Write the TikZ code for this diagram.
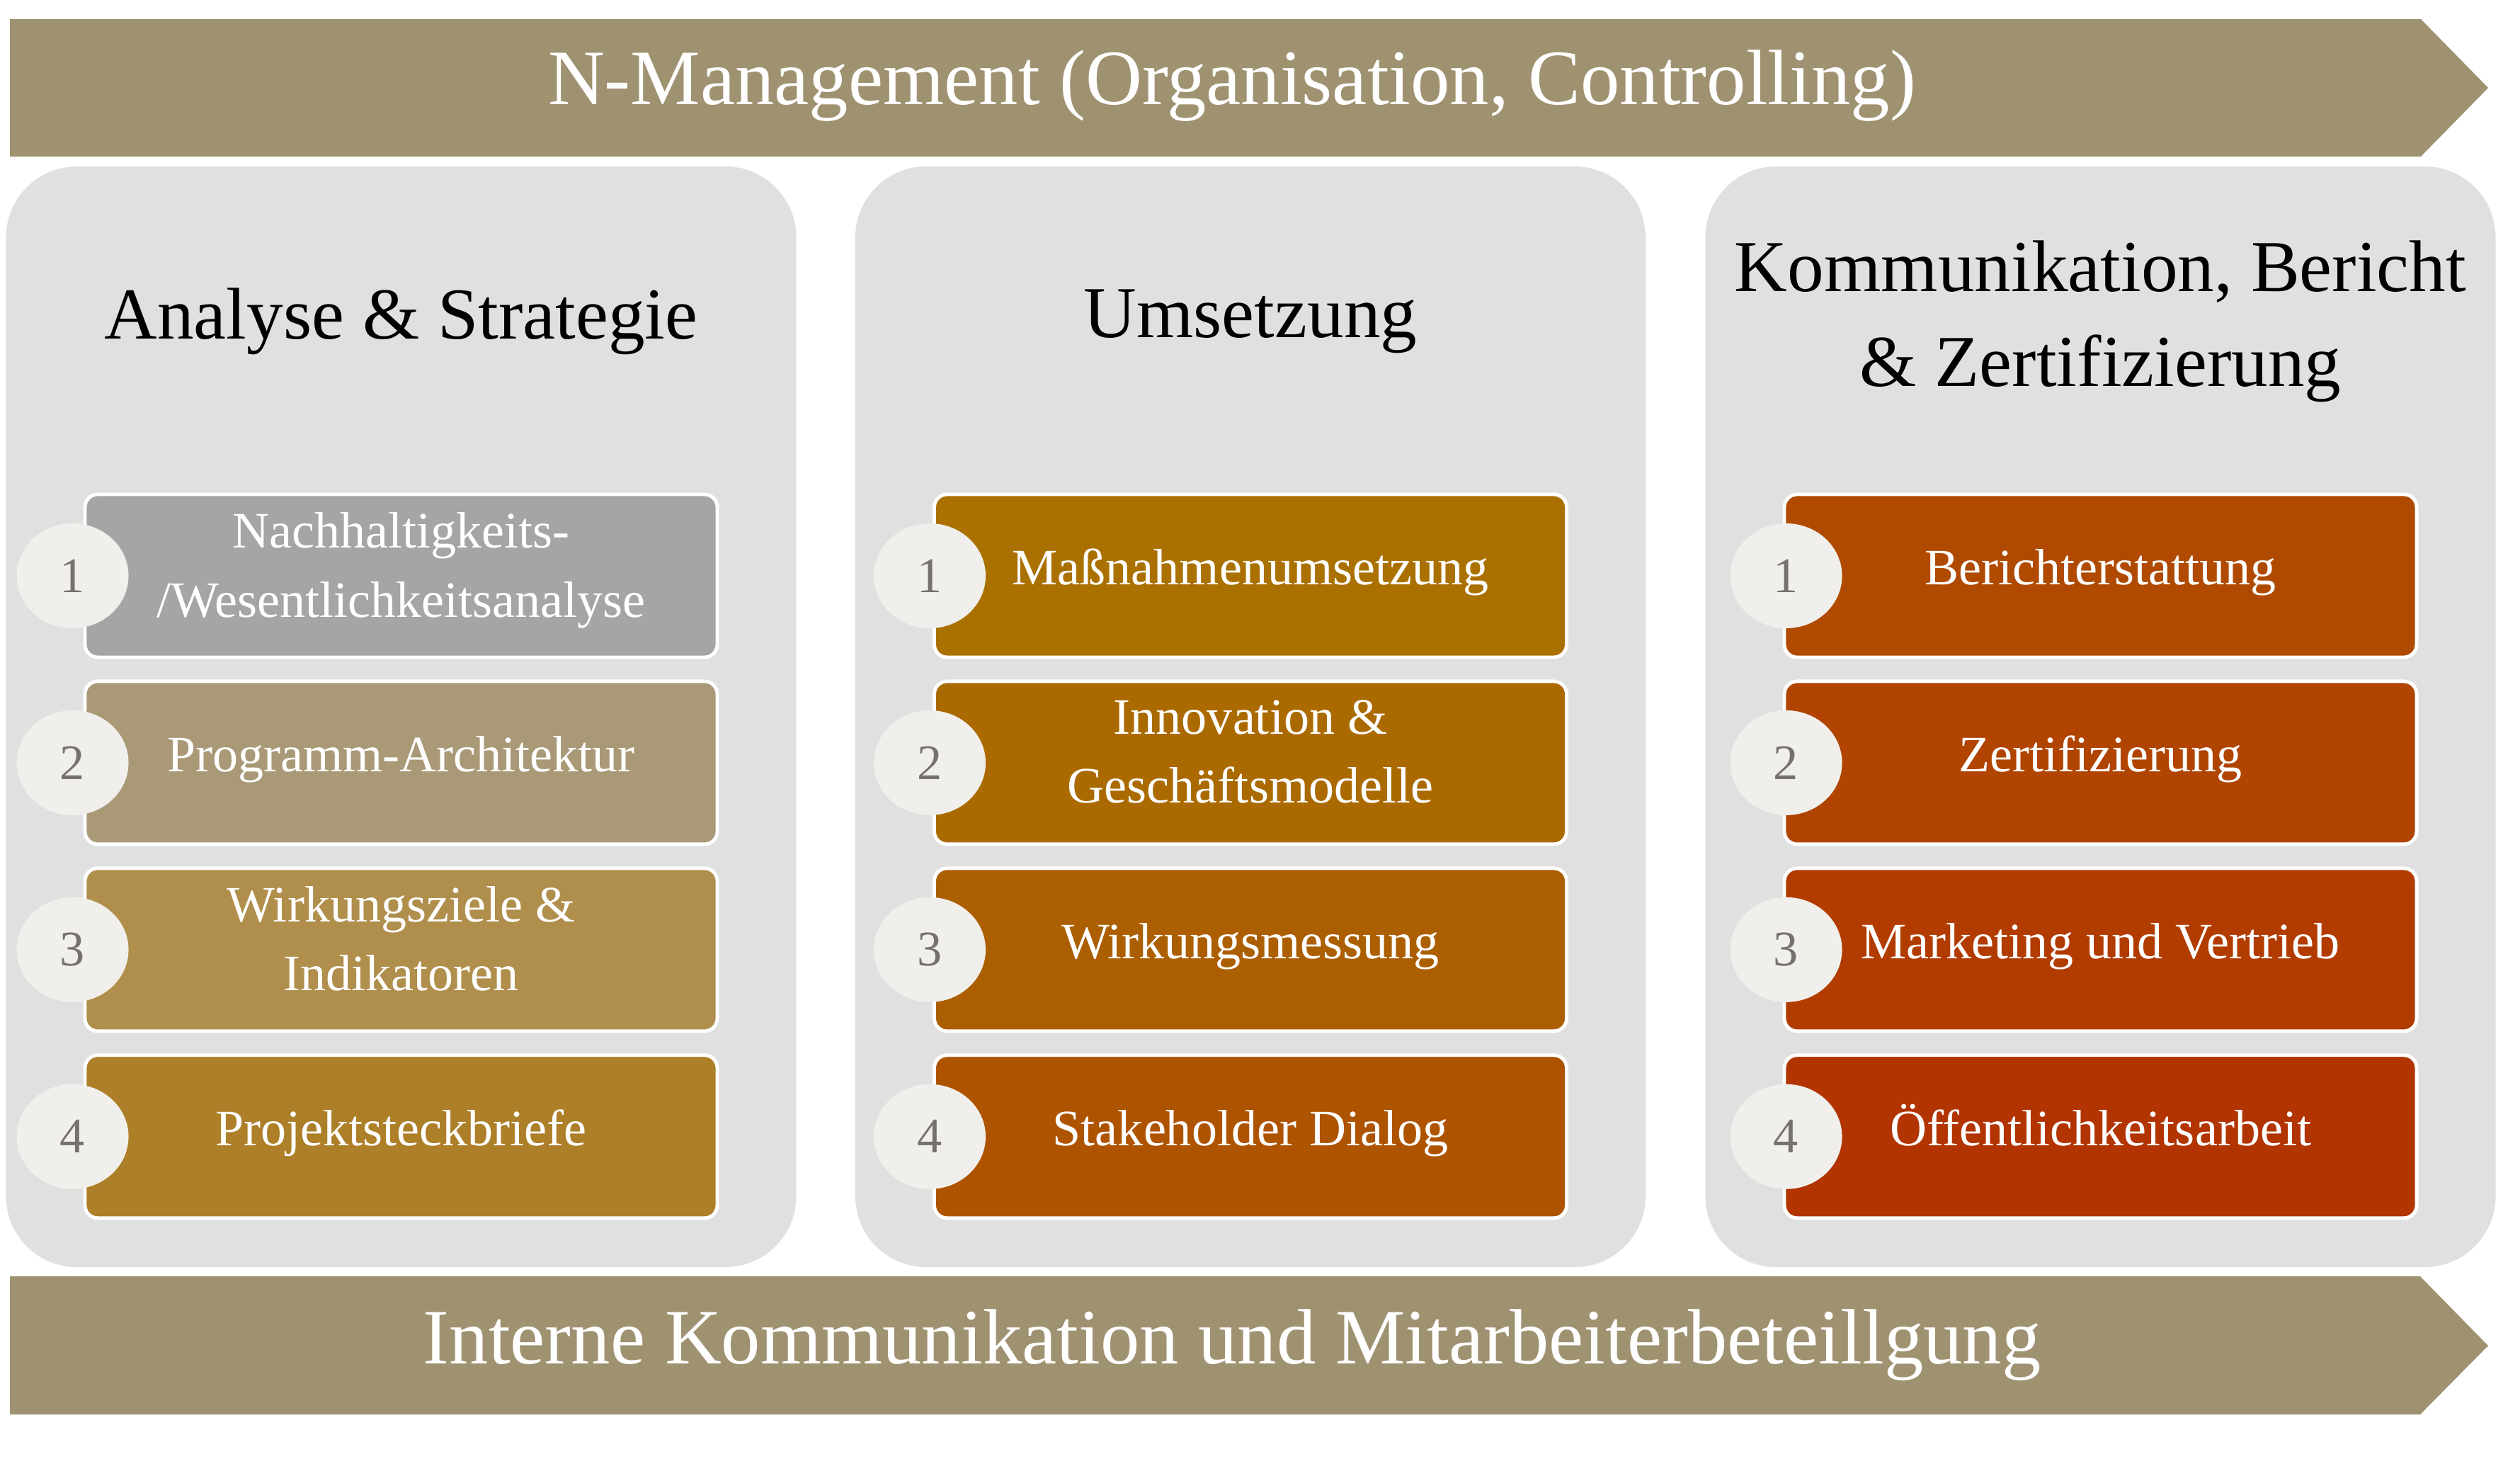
\documentclass[tikz,border=0pt]{standalone}
\usepackage{fontspec}
\setmainfont{Liberation Serif}
\usetikzlibrary{positioning,shapes.geometric}

\definecolor{banbrown}{HTML}{9F9270}
\definecolor{panelgray}{HTML}{E0E0E0}
\definecolor{numfill}{HTML}{F0EFEB}
\definecolor{numgray}{HTML}{767171}
% column 1 -- Analyse & Strategie
\definecolor{aone}{HTML}{A5A5A5}
\definecolor{atwo}{HTML}{A99977}
\definecolor{athree}{HTML}{B08E4C}
\definecolor{afour}{HTML}{AC7F28}
% column 2 -- Umsetzung
\definecolor{uone}{HTML}{AA7100}
\definecolor{utwo}{HTML}{AA6A00}
\definecolor{uthree}{HTML}{AC5F00}
\definecolor{ufour}{HTML}{AE5400}
% column 3 -- Kommunikation
\definecolor{kone}{HTML}{B04A00}
\definecolor{ktwo}{HTML}{B04400}
\definecolor{kthree}{HTML}{B23C00}
\definecolor{kfour}{HTML}{B23400}

\begin{document}
\begin{tikzpicture}[
  banner/.style={fill=banbrown},
  bantext/.style={text=white, anchor=base, font=\fontsize{31.5}{38}\selectfont},
  panel/.style={fill=panelgray, rounded corners=1cm, inner sep=0pt,
                minimum width=11.16cm, minimum height=15.54cm},
  head/.style={align=center, font=\fontsize{29.4}{38}\selectfont},
  task/.style={draw=white, line width=1.4pt, rounded corners=0.18cm, text=white,
               minimum width=8.93cm, minimum height=2.30cm, align=center,
               font=\fontsize{20.5}{27.8}\selectfont},
  one/.style={task, execute at begin node=\rule{0pt}{19pt},
              execute at end node=\rule[-12pt]{0pt}{0pt}},
  two/.style={task, execute at end node=\rule[-9pt]{0pt}{0pt}},
  num/.style={ellipse, fill=numfill, inner sep=0pt, minimum width=1.58cm,
              minimum height=1.48cm, text=numgray, font=\fontsize{20}{24}\selectfont}]
\useasboundingbox (0,0) rectangle (35.59,-20.66);
% the three columns
\node[panel] (pa) at (5.665,-10.12) {};
\node[panel] (pu) at (17.66,-10.12) {};
\node[panel] (pk) at (29.665,-10.12) {};
% top and bottom banner arrows
\fill[banner] (0.14,-0.27) -- (34.19,-0.27) -- (35.14,-1.24) -- (34.19,-2.21) -- (0.14,-2.21) -- cycle;
\node[bantext] (mgmt) at (17.40,-1.47) {N-Management (Organisation, Controlling)};
\fill[banner] (0.14,-18.02) -- (34.18,-18.02) -- (35.14,-19.00) -- (34.18,-19.97) -- (0.14,-19.97) -- cycle;
\node[bantext] (intern) at (17.40,-19.25) {Interne Kommunikation und Mitarbeiterbeteillgung};
% column headings
\node[head] (ha) at (5.665,-4.54) {Analyse \& Strategie};
\node[head] (hu) at (17.66,-4.54) {Umsetzung};
\node[head] (hk) at (29.665,-4.54) {Kommunikation, Bericht\\\& Zertifizierung};
% Analyse & Strategie
\node[two, fill=aone] (a1) at (5.665,-8.13) {Nachhaltigkeits-\\/Wesentlichkeitsanalyse};
\node[one, fill=atwo, below=0.29cm of a1] (a2) {Programm-Architektur};
\node[two, fill=athree, below=0.29cm of a2] (a3) {Wirkungsziele \&\\Indikatoren};
\node[one, fill=afour, below=0.29cm of a3] (a4) {Projektsteckbriefe};
\node[num] (na1) at ([xshift=-0.15cm]a1.west) {1};
\node[num] (na2) at ([xshift=-0.15cm]a2.west) {2};
\node[num] (na3) at ([xshift=-0.15cm]a3.west) {3};
\node[num] (na4) at ([xshift=-0.15cm]a4.west) {4};
% Umsetzung
\node[one, fill=uone] (u1) at (17.66,-8.13) {Maßnahmenumsetzung};
\node[two, fill=utwo, below=0.29cm of u1] (u2) {Innovation \&\\Geschäftsmodelle};
\node[one, fill=uthree, below=0.29cm of u2] (u3) {Wirkungsmessung};
\node[one, fill=ufour, below=0.29cm of u3] (u4) {Stakeholder Dialog};
\node[num] (nu1) at ([xshift=-0.04cm]u1.west) {1};
\node[num] (nu2) at ([xshift=-0.04cm]u2.west) {2};
\node[num] (nu3) at ([xshift=-0.04cm]u3.west) {3};
\node[num] (nu4) at ([xshift=-0.04cm]u4.west) {4};
% Kommunikation, Bericht & Zertifizierung
\node[one, fill=kone] (k1) at (29.665,-8.13) {Berichterstattung};
\node[one, fill=ktwo, below=0.29cm of k1] (k2) {Zertifizierung};
\node[one, fill=kthree, below=0.29cm of k2] (k3) {Marketing und Vertrieb};
\node[one, fill=kfour, below=0.29cm of k3] (k4) {Öffentlichkeitsarbeit};
\node[num] (nk1) at ([xshift=0.05cm]k1.west) {1};
\node[num] (nk2) at ([xshift=0.05cm]k2.west) {2};
\node[num] (nk3) at ([xshift=0.05cm]k3.west) {3};
\node[num] (nk4) at ([xshift=0.05cm]k4.west) {4};
\end{tikzpicture}
\end{document}
